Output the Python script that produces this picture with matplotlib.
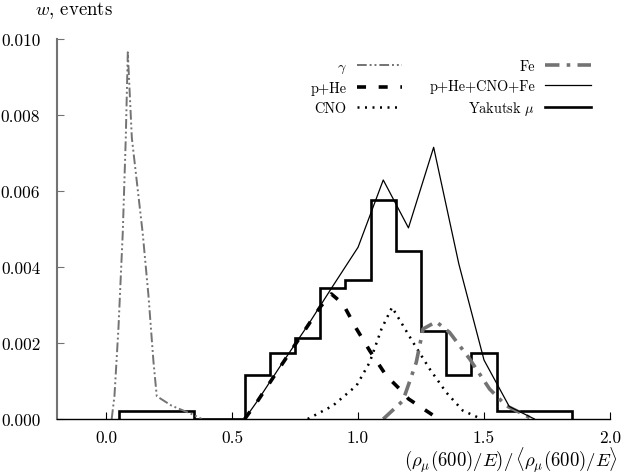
import numpy as np
import matplotlib
matplotlib.use("Agg")
import matplotlib.pyplot as plt

plt.rcParams['font.family'] = 'serif'
plt.rcParams['font.serif'] = ['cmr10']
plt.rcParams['mathtext.fontset'] = 'cm'
plt.rcParams['axes.formatter.use_mathtext'] = True

# gamma
x_gamma = [0.022, 0.033, 0.049, 0.066, 0.078, 0.086, 0.102, 0.145, 0.168, 0.188, 0.201, 0.26, 0.34, 0.38]
y_gamma = [0.0, 0.0006, 0.0024, 0.0049, 0.0074, 0.00965, 0.0074, 0.0049, 0.00325, 0.0015, 0.0006,
           0.00035, 0.00013, 0.0]

# p+He
x_phe = [0.55, 0.6, 0.7, 0.8, 0.85, 0.894, 0.94, 0.994, 1.046, 1.112, 1.165, 1.2, 1.27, 1.32]
y_phe = [0.0, 0.00046, 0.00146, 0.00245, 0.00295, 0.00329, 0.00303, 0.00237, 0.0018, 0.00114, 0.00079, 0.00053, 0.00022, 0.0]

# CNO
x_cno = [0.80, 0.90, 0.994, 1.046, 1.093, 1.135, 1.218, 1.284, 1.35, 1.416, 1.49]
y_cno = [0.0, 0.00035, 0.00088, 0.00149, 0.00237, 0.00294, 0.00202, 0.00132, 0.0007, 0.00022, 0.0]

# Fe
x_fe = [1.10, 1.178, 1.231, 1.258, 1.31, 1.363, 1.443, 1.522, 1.588, 1.667, 1.69]
y_fe = [0.0, 0.00048, 0.00149, 0.00237, 0.00256, 0.00228, 0.00158, 0.00079, 0.00035, 0.00009, 0.0]

# p+He+CNO+Fe
x_tot = [0.55, 0.6, 0.7, 0.8, 0.9, 1.0, 1.1, 1.2, 1.3, 1.4, 1.5, 1.6, 1.7]
y_tot = [0.0, 0.00047, 0.00148, 0.00246, 0.0035, 0.00452, 0.00629, 0.00503, 0.00715,
         0.00408, 0.00155, 0.00033, 0.0]

# Yakutsk mu histogram
edges_yak = [0.05, 0.35, 0.55, 0.65, 0.75, 0.85, 0.95, 1.05, 1.15, 1.25, 1.35, 1.45, 1.55, 1.85]
w_yak = [0.00022, 0.0, 0.00117, 0.00175, 0.00213, 0.00346, 0.00366, 0.00576, 0.00442,
         0.00232, 0.00117, 0.00174, 0.0002]

grey = '0.45'

fig = plt.figure(figsize=(6.23, 4.77), dpi=100)
ax = fig.add_axes([57/623, 1-420/477, 553/623, 380/477])

ax.plot(x_gamma, y_gamma, color=grey, lw=1.4, ls=(0, (5, 1.5, 1, 1.5, 1, 1.5)), label=r'$\gamma$')
ax.plot(x_phe, y_phe, color='black', lw=2.6, ls=(0, (2.5, 3.5)), label='p+He')
ax.plot(x_cno, y_cno, color='black', lw=1.8, ls=(0, (0.8, 2.2)), label='CNO')
ax.plot(x_fe, y_fe, color=grey, lw=2.6, ls=(0, (4, 2, 1, 2)), label='Fe')
ax.plot(x_tot, y_tot, color='black', lw=0.9, label='p+He+CNO+Fe')
ax.stairs(w_yak, edges_yak, color='black', lw=1.9, label=r'Yakutsk $\mu$')

ax.set_xlim(-0.195, 2.0)
ax.set_ylim(0, 0.010)
ax.set_xticks([0.0, 0.5, 1.0, 1.5, 2.0])
ax.set_yticks([0.0, 0.002, 0.004, 0.006, 0.008, 0.010])
ax.xaxis.set_major_formatter(matplotlib.ticker.FormatStrFormatter('%.1f'))
ax.yaxis.set_major_formatter(matplotlib.ticker.FormatStrFormatter('%.3f'))

ax.spines['top'].set_visible(False)
ax.spines['right'].set_visible(False)
ax.spines['left'].set_color(grey)
ax.spines['left'].set_linewidth(1.5)
ax.spines['bottom'].set_linewidth(1.0)
ax.tick_params(axis='x', direction='in', length=5, width=0.8, pad=8, labelsize=12.5)
ax.tick_params(axis='y', direction='in', length=5, width=0.8, color=grey, pad=12, labelsize=12.5)

leg = ax.legend(ncol=2, markerfirst=False, frameon=False, loc='upper right',
                bbox_to_anchor=(0.966, 0.946), borderaxespad=0, borderpad=0,
                fontsize=10.3, handlelength=3.2, handletextpad=0.7,
                columnspacing=1.9, labelspacing=0.42)

fig.text(35/623, 1-11/477, r'$w$, events', fontsize=13.5, ha='left', va='center')
fig.text(618/623, 1-460/477, r'$(\rho_\mu(600)/E)/\,\langle\rho_\mu(600)/E\rangle$',
         fontsize=13.5, ha='right', va='center')

fig.savefig('out.png', dpi=100)
